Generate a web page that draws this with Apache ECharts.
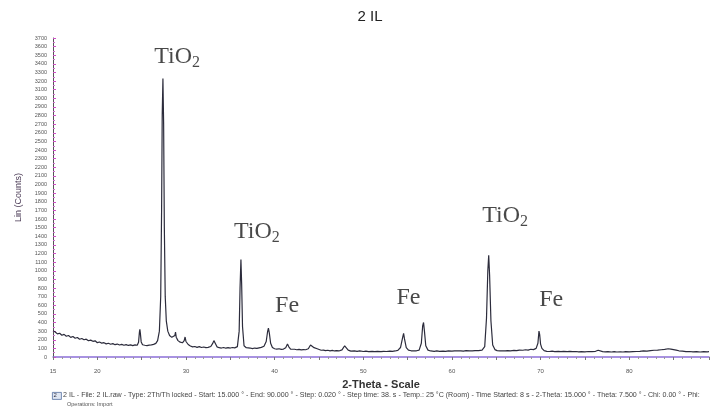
<!DOCTYPE html>
<html>
<head>
<meta charset="utf-8">
<script src="https://cdn.jsdelivr.net/npm/echarts@6/dist/echarts.min.js"></script>
<style>html,body{margin:0;padding:0;background:#fff}#c{width:712px;height:407px}</style>
</head>
<body>
<div id="c"></div>
<script>
// 2-theta positions (degrees)
const twoTheta = [
15.00,15.10,15.25,15.50,15.75,16.00,16.25,16.50,16.75,17.00,17.25,17.50,17.75,18.00,18.25,18.50,18.75,19.00,19.25,19.50,19.75,
20.00,20.25,20.50,20.75,21.00,21.25,21.50,21.75,22.00,22.25,22.50,22.75,23.00,23.25,23.50,23.75,24.00,24.25,24.50,24.65,24.75,
24.80,24.85,24.95,25.10,25.35,25.60,25.85,26.10,26.35,26.60,26.80,27.00,27.15,27.25,27.32,27.40,27.48,27.56,27.66,27.78,27.95,
28.15,28.40,28.60,28.75,28.82,28.90,29.10,29.35,29.60,29.80,29.90,30.00,30.25,30.50,30.75,31.00,31.25,31.50,31.75,32.00,32.25,
32.50,32.80,33.00,33.15,33.30,33.50,33.75,34.00,34.25,34.50,34.75,35.00,35.25,35.50,35.80,36.00,36.10,36.20,36.28,36.38,36.55,
36.80,37.00,37.25,37.50,37.75,38.00,38.25,38.50,38.80,39.05,39.20,39.30,39.40,39.55,39.75,40.00,40.25,40.50,40.75,41.00,41.25,
41.45,41.60,41.80,42.00,42.25,42.50,42.75,43.00,43.25,43.50,43.80,44.05,44.20,44.45,44.60,44.80,45.00,45.25,45.50,45.75,46.00,
46.25,46.50,46.75,47.00,47.25,47.60,47.90,48.05,48.30,48.60,49.00,49.30,49.60,50.00,50.30,50.60,51.00,51.30,51.60,52.00,52.30,
52.60,53.00,53.30,53.60,53.90,54.20,54.45,54.55,54.65,54.85,55.10,55.40,55.70,56.00,56.30,56.55,56.70,56.80,56.90,57.05,57.30,
57.60,58.00,58.30,58.60,59.00,59.30,59.60,60.00,60.30,60.60,61.00,61.30,61.60,62.00,62.30,62.60,63.00,63.40,63.70,63.90,64.05,
64.15,64.25,64.40,64.60,64.85,65.10,65.40,65.70,66.00,66.30,66.60,67.00,67.30,67.60,68.00,68.30,68.60,68.90,69.20,69.50,69.70,
69.82,69.90,70.00,70.15,70.40,70.70,71.00,71.30,71.60,72.00,72.30,72.60,73.00,73.30,73.60,74.00,74.30,74.60,75.00,75.40,75.80,
76.20,76.50,76.70,77.00,77.30,77.60,78.00,78.30,78.60,79.00,79.30,79.60,80.00,80.40,80.80,81.20,81.60,82.00,82.40,82.80,83.20,
83.60,84.00,84.40,84.70,85.00,85.30,85.60,86.00,86.40,86.80,87.20,87.60,88.00,88.40,88.80,89.00
];
// Lin (Counts)
const counts = [
305,282,290,268,275,252,262,240,250,228,238,218,226,206,214,200,207,188,196,182,188,
166,174,160,166,152,160,148,155,143,150,139,146,136,144,134,140,132,140,136,170,290,
320,280,175,142,136,132,138,140,146,158,190,300,700,1700,2800,3230,2700,1500,700,420,300,
250,228,215,250,290,230,190,172,165,190,232,180,145,128,118,122,112,120,110,116,108,
112,122,155,190,160,118,108,104,110,102,108,104,110,106,120,300,800,1130,850,350,130,
108,100,104,98,104,100,106,112,125,180,290,335,280,160,110,96,92,96,88,92,108,
150,118,92,86,90,84,88,82,86,84,96,140,120,108,128,96,82,78,80,74,78,
72,76,70,74,70,82,130,112,80,68,72,66,70,64,68,62,66,62,66,62,66,
64,68,66,70,76,110,230,275,210,110,80,72,70,72,80,160,360,400,300,130,80,
70,66,70,66,68,66,70,68,72,70,72,68,74,72,70,74,74,80,120,450,1000,
1180,950,420,140,86,74,70,72,70,74,72,76,74,80,78,84,80,90,86,100,160,
300,260,150,100,74,66,64,68,62,66,62,66,62,66,62,64,60,62,60,64,62,
66,78,72,62,60,62,58,62,58,60,58,62,60,62,64,66,70,68,74,78,80,
84,88,96,92,86,80,72,68,62,64,60,62,58,62,60,62
];
// phase annotations
const annotText = ['TiO','TiO','TiO','Fe','Fe','Fe'];
const annotSub  = ['2','2','2','','',''];
const annotX    = [29.0, 38.0, 66.0, 41.4, 55.1, 71.2];
const annotY    = [3480, 1450, 1636, 592, 684, 661];
// axis settings
const xMin = 15, xMax = 89, xStep = 5;
const yMin = 0, yMax = 3700, yStep = 100;
const titleText = '2 IL';
const xName = '2-Theta - Scale';
const yName = 'Lin (Counts)';
const footer1 = '2 IL - File: 2 IL.raw - Type: 2Th/Th locked - Start: 15.000 ° - End: 90.000 ° - Step: 0.020 ° - Step time: 38. s - Temp.: 25 °C (Room) - Time Started: 8 s - 2-Theta: 15.000 ° - Theta: 7.500 ° - Chi: 0.00 ° - Phi:';
const footer2 = 'Operations: Import';

const lineData = twoTheta.map((t, i) => [t, counts[i]]);
const annotData = annotX.map((x, i) => ({
  value: [x, annotY[i]],
  label: { formatter: '{m|' + annotText[i] + '}' + (annotSub[i] ? '{s|' + annotSub[i] + '}' : '') }
}));

const chart = echarts.init(document.getElementById('c'), null, { renderer: 'canvas' });
chart.setOption({
  animation: false,
  backgroundColor: '#fff',
  title: {
    text: titleText, left: 365, top: 4, textAlign: 'center',
    textStyle: { fontFamily: 'Liberation Sans', fontSize: 15, fontWeight: 'normal', color: '#222' }
  },
  grid: { left: 53, right: 0, top: 38, bottom: 50, containLabel: false },
  xAxis: {
    type: 'value', min: xMin, max: xMax, interval: xStep,
    name: xName, nameLocation: 'middle', nameGap: 22,
    nameTextStyle: { fontFamily: 'Liberation Sans', fontSize: 11, fontWeight: 'bold', color: '#333' },
    axisLine: { lineStyle: { color: '#8c6fd8', width: 1.5 } },
    axisTick: { show: true, length: 3, lineStyle: { color: '#777' } },
    minorTick: { show: true, splitNumber: 5, length: 2, lineStyle: { color: '#999' } },
    splitLine: { show: false },
    axisLabel: {
      fontFamily: 'Liberation Sans', fontSize: 6, color: '#555', margin: 11,
      formatter: v => (v === xMin || v % 10 === 0) ? String(v) : ''
    }
  },
  yAxis: {
    type: 'value', min: yMin, max: yMax, interval: yStep,
    name: yName, nameLocation: 'middle', nameGap: 30, nameRotate: 90,
    nameTextStyle: { fontFamily: 'Liberation Sans', fontSize: 9, color: '#4a3a55' },
    axisLine: { show: true, lineStyle: { color: '#555', width: 1 } },
    axisTick: { show: true, inside: true, length: 3, lineStyle: { color: '#d050c8' } },
    minorTick: { show: true, splitNumber: 2, length: 2, lineStyle: { color: '#d070d0' } },
    splitLine: { show: false },
    axisLabel: { fontFamily: 'Liberation Sans', fontSize: 5.5, color: '#555', margin: 6, formatter: v => String(v) }
  },
  series: [
    {
      type: 'line', data: lineData, showSymbol: false, symbol: 'none',
      lineStyle: { color: '#2c2c3c', width: 1.2 }, z: 3
    },
    {
      type: 'scatter', data: annotData, symbolSize: 0, silent: true, z: 4,
      label: {
        show: true, position: 'inside',
        rich: {
          m: { fontFamily: 'Liberation Serif', fontSize: 24, color: '#1a1a1a', lineHeight: 28 },
          s: { fontFamily: 'Liberation Serif', fontSize: 16, color: '#1a1a1a', verticalAlign: 'bottom', lineHeight: 16, padding: [10, 0, 0, 0] }
        }
      }
    }
  ],
  graphic: [
    { type: 'rect', left: 52, top: 392, shape: { width: 9, height: 7 }, style: { fill: '#dfe6f2', stroke: '#5570a0', lineWidth: 0.8 } },
    { type: 'text', left: 53.5, top: 392.5, style: { text: '2', font: '6px Liberation Sans', fill: '#334' } },
    { type: 'text', left: 63, top: 392, style: { text: footer1, font: '7.1px Liberation Sans', fill: '#444' } },
    { type: 'text', left: 67, top: 401, style: { text: footer2, font: '5.5px Liberation Sans', fill: '#555' } }
  ]
});
</script>
</body>
</html>
